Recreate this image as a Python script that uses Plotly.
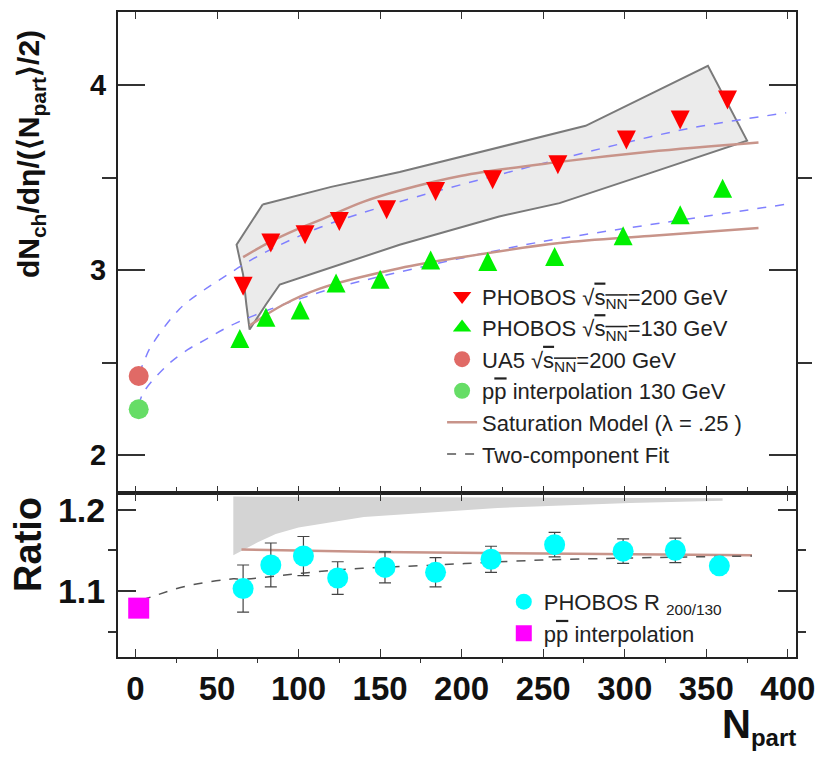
import plotly.graph_objects as go

# ---------------- data ----------------
npart_200 = [66, 83, 104, 125, 154, 184, 219, 259, 301, 334, 363]
dndeta_200 = [2.913, 3.146, 3.191, 3.263, 3.326, 3.425, 3.488, 3.569, 3.703, 3.811, 3.919]

npart_130 = [64, 80, 101, 123, 150, 181, 216, 257, 299, 334, 360]
dndeta_130 = [2.63, 2.745, 2.785, 2.93, 2.95, 3.055, 3.047, 3.074, 3.186, 3.299, 3.443]

npart_pp = [2]
ua5_200 = [2.428]
pp_130 = [2.248]

# systematic band (200 GeV) outline
band_x = [78, 120, 162, 250, 276, 351, 375, 315, 260, 223, 162, 113, 88.5, 80, 70, 68, 66, 62, 78]
band_y = [3.355, 3.45, 3.53, 3.72, 3.78, 4.104, 3.70, 3.523, 3.362, 3.29, 3.137, 2.994, 2.922, 2.814, 2.679, 2.814, 2.976, 3.137, 3.355]

# saturation model curves
sat_x_200 = [66, 82, 99, 113, 140, 162, 200, 260, 315, 382]
sat_y_200 = [3.07, 3.15, 3.22, 3.27, 3.37, 3.43, 3.51, 3.585, 3.64, 3.69]
sat_x_130 = [70, 90, 113, 162, 200, 260, 315, 382]
sat_y_130 = [2.70, 2.81, 2.90, 3.01, 3.07, 3.146, 3.185, 3.227]

# two-component fits (top panel)
fit_x_200 = [2, 5, 9, 27, 40, 52, 76, 113, 162, 260, 301, 342, 399]
fit_y_200 = [2.44, 2.50, 2.58, 2.79, 2.88, 2.95, 3.08, 3.23, 3.37, 3.60, 3.69, 3.77, 3.85]
fit_x_130 = [2, 5, 20, 32, 40, 62, 113, 162, 235, 260, 315, 399]
fit_y_130 = [2.27, 2.34, 2.49, 2.57, 2.61, 2.715, 2.88, 2.99, 3.13, 3.17, 3.245, 3.356]

# ratio panel
npart_ratio = [66, 83, 103, 124, 153, 184, 218, 257, 299, 331, 358]
ratio = [1.103, 1.132, 1.143, 1.116, 1.129, 1.123, 1.139, 1.157, 1.149, 1.150, 1.131]
ratio_err = [0.029, 0.027, 0.024, 0.020, 0.019, 0.018, 0.016, 0.015, 0.015, 0.015, 0.008]
ratio_pp = [1.079]

rband_x = [60, 360, 360, 303, 222, 140, 100, 86, 75, 66, 60]
rband_y = [1.216, 1.214, 1.211, 1.208, 1.202, 1.191, 1.178, 1.170, 1.160, 1.150, 1.144]

rsat_x = [65, 150, 250, 378]
rsat_y = [1.151, 1.148, 1.146, 1.144]

rfit_x = [4, 13, 31, 60, 65, 124, 184, 249, 378]
rfit_y = [1.089, 1.095, 1.106, 1.115, 1.1145, 1.126, 1.132, 1.138, 1.143]

# ---------------- styles ----------------
FONT = "Liberation Sans, Arial, sans-serif"
BROWN = "#c8948a"
BLUE = "#8080ff"
RED = "#ff0000"
GREEN = "#00f000"
OL = '<span style="text-decoration:overline">'

fig = go.Figure()

# top band
fig.add_trace(go.Scatter(x=band_x, y=band_y, mode="lines", fill="toself",
                         fillcolor="#ebebeb", line=dict(color="#7a7a7a", width=2),
                         showlegend=False, hoverinfo="skip", xaxis="x", yaxis="y"))
# blue dashed fits
for fx, fy in [(fit_x_200, fit_y_200), (fit_x_130, fit_y_130)]:
    fig.add_trace(go.Scatter(x=fx, y=fy, mode="lines", line=dict(color=BLUE, width=1.5, dash="dash", shape="spline"),
                             showlegend=False, xaxis="x", yaxis="y"))
# saturation
fig.add_trace(go.Scatter(x=sat_x_200, y=sat_y_200, mode="lines", line=dict(color=BROWN, width=2.5, shape="spline"),
                         showlegend=False, xaxis="x", yaxis="y"))
fig.add_trace(go.Scatter(x=sat_x_130, y=sat_y_130, mode="lines", line=dict(color=BROWN, width=2.5, shape="spline"),
                         showlegend=False, xaxis="x", yaxis="y"))

# markers (plotted), legend handled by legend-only entries below
fig.add_trace(go.Scatter(x=npart_200, y=dndeta_200, mode="markers",
                         marker=dict(symbol="arrow-down", size=19, color=RED, standoff=9.5, line=dict(width=0)),
                         showlegend=False, xaxis="x", yaxis="y"))
fig.add_trace(go.Scatter(x=npart_130, y=dndeta_130, mode="markers",
                         marker=dict(symbol="arrow-down", angle=180, size=19, color=GREEN, standoff=9.5, line=dict(width=0)),
                         showlegend=False, xaxis="x", yaxis="y"))
fig.add_trace(go.Scatter(x=[None], y=[None], mode="markers",
                         marker=dict(symbol="triangle-down", size=16, color=RED),
                         name="PHOBOS √" + OL + "s<sub>NN</sub></span>=200 GeV",
                         legend="legend", legendgroup="a", xaxis="x", yaxis="y"))
fig.add_trace(go.Scatter(x=[None], y=[None], mode="markers",
                         marker=dict(symbol="triangle-up", size=16, color=GREEN),
                         name="PHOBOS √" + OL + "s<sub>NN</sub></span>=130 GeV",
                         legend="legend", legendgroup="b", xaxis="x", yaxis="y"))
fig.add_trace(go.Scatter(x=npart_pp, y=ua5_200, mode="markers",
                         marker=dict(symbol="circle", size=20, color="#e06a66"),
                         name="UA5 √" + OL + "s<sub>NN</sub></span>=200 GeV",
                         legend="legend", legendgroup="c", xaxis="x", yaxis="y"))
fig.add_trace(go.Scatter(x=npart_pp, y=pp_130, mode="markers",
                         marker=dict(symbol="circle", size=20, color="#66dd66"),
                         name="p" + OL + "p</span> interpolation 130 GeV",
                         legend="legend", legendgroup="d", xaxis="x", yaxis="y"))

# bottom panel
fig.add_trace(go.Scatter(x=rband_x, y=rband_y, mode="lines", fill="toself",
                         fillcolor="#d4d4d4", line=dict(width=0), showlegend=False,
                         hoverinfo="skip", xaxis="x2", yaxis="y2"))
fig.add_trace(go.Scatter(x=rsat_x, y=rsat_y, mode="lines", line=dict(color=BROWN, width=2.5, shape="spline"),
                         name="Saturation Model (λ = .25 )", legend="legend", legendgroup="e",
                         xaxis="x2", yaxis="y2"))
fig.add_trace(go.Scatter(x=rfit_x, y=rfit_y, mode="lines", line=dict(color="#555555", width=1.5, dash="dash", shape="spline"),
                         name="Two-component Fit", legend="legend", legendgroup="f",
                         xaxis="x2", yaxis="y2"))
fig.add_trace(go.Scatter(x=npart_ratio, y=ratio, mode="markers",
                         error_y=dict(type="data", array=ratio_err, color="#444444", thickness=1.2, width=6),
                         marker=dict(symbol="circle", size=21, color="#00ffff"),
                         name="PHOBOS R <sub>200/130</sub>", legend="legend2", legendgroup="g",
                         xaxis="x2", yaxis="y2"))
fig.add_trace(go.Scatter(x=npart_pp, y=ratio_pp, mode="markers",
                         marker=dict(symbol="square", size=21, color="#ff00ff"),
                         name="p" + OL + "p</span> interpolation", legend="legend2", legendgroup="h",
                         xaxis="x2", yaxis="y2"))

XR = [-10.7, 405]
axis_common = dict(showline=True, linecolor="#222222", linewidth=2, mirror="allticks",
                   ticks="inside", tickcolor="#333333", showgrid=False, zeroline=False)

fig.update_layout(
    width=825, height=759,
    margin=dict(l=118, r=28, t=10, b=102),
    paper_bgcolor="white", plot_bgcolor="white",
    font=dict(family=FONT, color="#111111"),
    xaxis=dict(domain=[0, 1], range=XR, anchor="y", showticklabels=False,
               tickvals=[0, 50, 100, 150, 200, 250, 300, 350, 400], ticklen=7, tickwidth=1,
               **axis_common),
    yaxis=dict(domain=[0.255, 1], range=[1.798, 4.395], anchor="x",
               tickvals=[2, 3, 4], ticklen=27, tickwidth=2,
               minor=dict(tickvals=[2.5, 3.5], ticklen=14, tickcolor="#333333"),
               tickfont=dict(size=29, family=FONT, weight="bold", color="#111111"),
               ticklabelstandoff=4, **axis_common),
    xaxis2=dict(domain=[0, 1], range=XR, anchor="y2",
                tickvals=[0, 50, 100, 150, 200, 250, 300, 350, 400], ticklen=8, tickwidth=1,
                minor=dict(tickvals=[25, 75, 125, 175, 225, 275, 325, 375], ticklen=4, tickcolor="#333333"),
                tickfont=dict(size=33, family=FONT, weight="bold", color="#111111"),
                ticklabelstandoff=1, **axis_common),
    yaxis2=dict(domain=[0, 0.255], range=[1.019, 1.221], anchor="x2",
                tickvals=[1.1, 1.2], ticktext=["1.1", "1.2"], ticklen=18, tickwidth=2,
                minor=dict(tickvals=[1.05, 1.15], ticklen=8, tickcolor="#333333"),
                tickfont=dict(size=34, family=FONT, weight="bold", color="#111111"),
                ticklabelstandoff=4, **axis_common),
    legend=dict(x=0.478, y=0.592, xanchor="left", yanchor="top", bgcolor="rgba(0,0,0,0)",
                font=dict(size=22, family=FONT, color="#222222"), tracegroupgap=3,
                traceorder="normal", itemwidth=30),
    legend2=dict(x=0.569, y=0.118, xanchor="left", yanchor="top", bgcolor="rgba(0,0,0,0)",
                 font=dict(size=22, family=FONT, color="#222222"), tracegroupgap=3,
                 traceorder="normal", itemwidth=30),
    annotations=[
        dict(text="dN<sub>ch</sub>/dη/(⟨N<sub>part</sub>⟩/2)", xref="paper", yref="paper",
             x=-0.128, y=0.78, textangle=-90, showarrow=False, xanchor="center", yanchor="middle",
             font=dict(size=30, family=FONT, weight="bold", color="#111111")),
        dict(text="Ratio", xref="paper", yref="paper",
             x=-0.133, y=0.175, textangle=-90, showarrow=False, xanchor="center", yanchor="middle",
             font=dict(size=38, family=FONT, weight="bold", color="#111111")),
        dict(text='N<sub><span style="font-size:24px">part</span></sub>', xref="paper", yref="paper",
             x=1.003, y=-0.108, showarrow=False, xanchor="right", yanchor="middle",
             font=dict(size=40, family=FONT, weight="bold", color="#111111")),
    ],
)

fig.write_html("out.html")
